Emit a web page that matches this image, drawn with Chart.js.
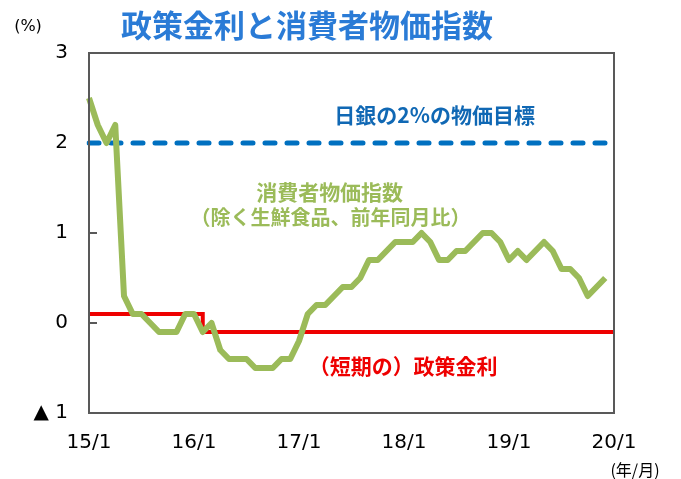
<!DOCTYPE html>
<html>
<head>
<meta charset="utf-8">
<script src="https://cdn.jsdelivr.net/npm/chart.js@4/dist/chart.umd.min.js"></script>
<style>
  html, body { margin: 0; padding: 0; background: #fff; }
</style>
</head>
<body>
<canvas id="rateChart" width="681" height="479"></canvas>
<script>
// months from 15/1 to 20/1 (61 slots), only the January ones get a label
const xTickLabels = ['15/1', '16/1', '17/1', '18/1', '19/1', '20/1'];
const months = [];
for (let y = 15; y <= 20; y++) {
  for (let m = 1; m <= 12; m++) {
    if (y === 20 && m > 1) break;
    months.push(y + '/' + m);
  }
}

// 消費者物価指数（除く生鮮食品、前年同月比）
const cpi = [
  2.5, 2.2, 2.0, 2.2, 0.3, 0.1, 0.1, 0.0, -0.1, -0.1, -0.1, 0.1,
  0.1, -0.1, 0.0, -0.3, -0.4, -0.4, -0.4, -0.5, -0.5, -0.5, -0.4, -0.4,
  -0.2, 0.1, 0.2, 0.2, 0.3, 0.4, 0.4, 0.5, 0.7, 0.7, 0.8, 0.9,
  0.9, 0.9, 1.0, 0.9, 0.7, 0.7, 0.8, 0.8, 0.9, 1.0, 1.0, 0.9,
  0.7, 0.8, 0.7, 0.8, 0.9, 0.8, 0.6, 0.6, 0.5, 0.3, 0.4, 0.5
];

// (短期の)政策金利: 0.1% then -0.1% after the switch
const policyRate = [
  0.1, 0.1, 0.1, 0.1, 0.1, 0.1, 0.1, 0.1, 0.1, 0.1, 0.1, 0.1,
  0.1, -0.1, -0.1, -0.1, -0.1, -0.1, -0.1, -0.1, -0.1, -0.1, -0.1, -0.1,
  -0.1, -0.1, -0.1, -0.1, -0.1, -0.1, -0.1, -0.1, -0.1, -0.1, -0.1, -0.1,
  -0.1, -0.1, -0.1, -0.1, -0.1, -0.1, -0.1, -0.1, -0.1, -0.1, -0.1, -0.1,
  -0.1, -0.1, -0.1, -0.1, -0.1, -0.1, -0.1, -0.1, -0.1, -0.1, -0.1, -0.1,
  -0.1
];

// 日銀の2%の物価目標
const target = months.map(() => 2);

const yTickValues = [-1, 0, 1, 2, 3];
const yTickLabels = ['▲ 1', '0', '1', '2', '3'];

const GRAY = '#595959';
const CJK = '"Noto Sans CJK JP", sans-serif';

// frame, inner tick marks and the text notes inside the plot
const decorations = {
  id: 'decorations',
  beforeDatasetsDraw(chart) {
    const { ctx, chartArea: a, scales } = chart;
    ctx.save();
    ctx.strokeStyle = GRAY;
    ctx.lineWidth = 2;
    [0, 1, 2].forEach(v => {
      const y = Math.round(scales.y.getPixelForValue(v));
      ctx.beginPath();
      ctx.moveTo(a.left, y);
      ctx.lineTo(a.left + 8, y);
      ctx.stroke();
    });
    ctx.restore();
  },
  afterDatasetsDraw(chart) {
    const { ctx, chartArea: a, scales } = chart;
    ctx.save();
    ctx.strokeStyle = GRAY;
    ctx.lineWidth = 2;
    ctx.strokeRect(a.left, a.top, a.right - a.left, a.bottom - a.top);

    const note = (text, idx, val, color, size) => {
      ctx.fillStyle = color;
      ctx.font = 'bold ' + size + 'px ' + CJK;
      ctx.textAlign = 'center';
      ctx.textBaseline = 'middle';
      ctx.fillText(text, scales.x.getPixelForValue(idx), scales.y.getPixelForValue(val));
    };
    note('日銀の2%の物価目標', 39.5, 2.31, '#1068b4', 21);
    note('消費者物価指数', 27.5, 1.46, '#9bbb59', 21);
    note('（除く生鮮食品、前年同月比）', 27.6, 1.17, '#9bbb59', 20);
    note('（短期の）政策金利', 35.9, -0.48, '#ee0000', 21);

    ctx.fillStyle = '#000';
    ctx.textAlign = 'center';
    ctx.textBaseline = 'middle';
    ctx.font = '16px "DejaVu Sans", sans-serif';
    ctx.fillText('(%)', 28, 27);
    ctx.font = '16px ' + CJK;
    ctx.fillText('(年/月)', 635, 470);
    ctx.restore();
  }
};

new Chart(document.getElementById('rateChart'), {
  type: 'line',
  data: {
    labels: months,
    datasets: [
      {
        label: '消費者物価指数',
        data: cpi,
        borderColor: '#9bbb59',
        borderWidth: 6,
        borderJoinStyle: 'round',
        pointRadius: 0,
        tension: 0
      },
      {
        label: '日銀の2%の物価目標',
        data: target,
        borderColor: '#0070c0',
        borderWidth: 5,
        borderDash: [10, 12],
        borderCapStyle: 'round',
        pointRadius: 0
      },
      {
        label: '政策金利',
        data: policyRate,
        borderColor: '#ee0000',
        borderWidth: 4,
        stepped: 'before',
        pointRadius: 0
      }
    ]
  },
  options: {
    responsive: false,
    animation: false,
    layout: { padding: { top: 0, right: 67, bottom: 0, left: 0 } },
    plugins: {
      legend: { display: false },
      tooltip: { enabled: false },
      title: {
        display: true,
        text: '政策金利と消費者物価指数',
        color: '#2a7bd6',
        font: { family: CJK, size: 31, weight: 'bold', lineHeight: 1.2 },
        padding: { top: 7, bottom: 8.8 }
      }
    },
    scales: {
      x: {
        type: 'category',
        offset: false,
        grid: { display: false, drawTicks: false },
        border: { display: false },
        ticks: {
          autoSkip: false,
          maxRotation: 0,
          minRotation: 0,
          padding: 18,
          color: '#000',
          font: { family: '"DejaVu Sans", sans-serif', size: 20 },
          callback: (v, i) => (i % 12 === 0 ? xTickLabels[i / 12] : '')
        },
        afterFit: s => { s.height = 66; }
      },
      y: {
        min: -1,
        max: 3,
        grid: { display: false, drawTicks: false },
        border: { display: false },
        ticks: {
          stepSize: 1,
          padding: 21,
          color: '#000',
          font: { family: '"DejaVu Sans", sans-serif', size: 20 },
          callback: v => yTickLabels[yTickValues.indexOf(v)]
        },
        afterFit: s => { s.width = 89; }
      }
    }
  },
  plugins: [decorations]
});
</script>
</body>
</html>
